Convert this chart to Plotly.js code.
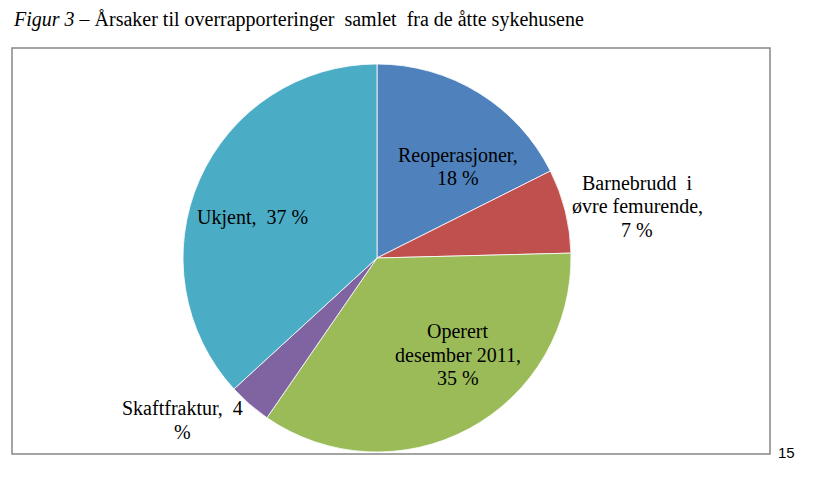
<!DOCTYPE html>
<html>
<head>
<meta charset="utf-8">
<script src="https://cdn.plot.ly/plotly-3.0.1.min.js"></script>
<style>html,body{margin:0;padding:0;background:#fff;}#chart{width:820px;height:491px;}</style>
</head>
<body>
<div id="chart"></div>
<script>
// Data
const categories = ["Reoperasjoner", "Barnebrudd i øvre femurende", "Operert desember 2011", "Skaftfraktur", "Ukjent"];
const shares = [17.6, 7.0, 35.0, 3.6, 36.8];
const labelTexts = [
  "Reoperasjoner,<br>18 %",
  "Barnebrudd  i<br>øvre femurende,<br>7 %",
  "Operert<br>desember 2011,<br>35 %",
  "Skaftfraktur,  4<br>%",
  "Ukjent,  37 %"
];
const colors = ["#4F81BD", "#C0504D", "#9BBB59", "#8064A2", "#4BACC6"];
const titleText = "<i>Figur 3</i> – Årsaker til overrapporteringer  samlet  fra de åtte sykehusene";
const pageNumber = "15";

// Layout helpers (pixel -> paper)
const W = 820, H = 491;
const px = x => x / W;
const py = y => 1 - y / H;

// centre x and first-line centre y of each label (pixels)
const labelPos = [
  [458, 155],
  [637, 183],
  [458, 331],
  [182, 408],
  [252, 218]
];
const lineStep = 23.5;
const serif = "Liberation Serif";

const annotations = [];
labelTexts.forEach((t, i) => {
  t.split("<br>").forEach((line, j) => {
    annotations.push({
      text: line, x: px(labelPos[i][0]), y: py(labelPos[i][1] + j * lineStep),
      xref: "paper", yref: "paper", showarrow: false,
      xanchor: "center", yanchor: "middle", align: "center",
      font: {family: serif, size: 20, color: "#000"}
    });
  });
});
annotations.push({
  text: titleText, x: px(11), y: py(20), xref: "paper", yref: "paper",
  showarrow: false, xanchor: "left", yanchor: "middle",
  font: {family: serif, size: 20, color: "#000"}
});
annotations.push({
  text: pageNumber, x: px(786), y: py(452), xref: "paper", yref: "paper",
  showarrow: false, xanchor: "center", yanchor: "middle",
  font: {family: "Liberation Sans", size: 15, color: "#000"}
});

const data = [{
  type: "pie",
  labels: categories,
  values: shares,
  sort: false,
  direction: "clockwise",
  rotation: 0,
  textinfo: "none",
  hoverinfo: "label+percent",
  marker: {colors: colors, line: {color: "#ffffff", width: 0.8}},
  domain: {x: [px(182), px(572)], y: [py(452), py(64)]},
  showlegend: false
}];

const layout = {
  width: W, height: H,
  margin: {l: 0, r: 0, t: 0, b: 0},
  paper_bgcolor: "#ffffff",
  showlegend: false,
  annotations: annotations,
  shapes: [{
    type: "rect", xref: "paper", yref: "paper",
    x0: px(12), x1: px(770), y0: py(454), y1: py(48),
    line: {color: "#868686", width: 1.5}, fillcolor: "rgba(0,0,0,0)", layer: "below"
  }]
};

Plotly.newPlot("chart", data, layout, {displayModeBar: false, staticPlot: true});
</script>
</body>
</html>
